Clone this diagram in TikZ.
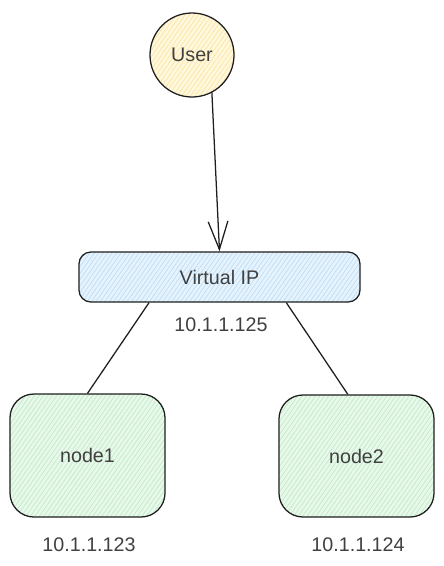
\documentclass[tikz,border=0pt]{standalone}
\usepackage{fontspec}
\setmainfont{Liberation Sans}
\usepackage{xcolor}
\usetikzlibrary{arrows.meta,patterns.meta}

\definecolor{userfill}{HTML}{FFF8DC}
\definecolor{userhatch}{HTML}{FBE3A0}
\definecolor{vipfill}{HTML}{E6F3FD}
\definecolor{viphatch}{HTML}{B9DCF6}
\definecolor{hostfill}{HTML}{E8F8EA}
\definecolor{hosthatch}{HTML}{BDEBC4}
\definecolor{ink}{HTML}{1E1E1E}

\tikzset{
  hatch/.style 2 args={preaction={fill=#1}, pattern={Lines[angle=55,distance=2.6pt,line width=0.45pt]}, pattern color=#2},
  txt/.style={draw=none, fill=none, text=ink!85, font=\fontsize{14}{16}\selectfont}
}

\begin{document}
\begin{tikzpicture}[x=0.025cm, y=-0.025cm, every node/.style={draw=ink, line width=0.9pt, text=ink!85, font=\fontsize{14}{16}\selectfont, inner sep=0pt}]
            \useasboundingbox (0,0) rectangle (444,566);

            \node (U) at (192,55) [circle, minimum size=2.1cm, hatch={userfill}{userhatch}] {User};
            \node (VIP) at (219.5,277) [rectangle, rounded corners=0.3cm, minimum width=7.025cm, minimum height=1.25cm, hatch={vipfill}{viphatch}] {Virtual IP};
            \node (vipip) at (221,325) [txt] {10.1.1.125};

            \node (n1) at (87.5,455.5) [rectangle, rounded corners=0.6cm, minimum width=3.875cm, minimum height=3.075cm, hatch={hostfill}{hosthatch}] {node1};
            \node (n1ip) at (89,545) [txt] {10.1.1.123};

            \node (n2) at (356.5,456) [rectangle, rounded corners=0.6cm, minimum width=3.875cm, minimum height=3.05cm, hatch={hostfill}{hosthatch}] {node2};
            \node (n2ip) at (358,545) [txt] {10.1.1.124};

            \draw[ink, line width=0.9pt, -{Straight Barb[length=20pt,width=14pt,line width=0.9pt]}] (U.-62) -- (VIP.north);

            \draw[ink, line width=0.9pt] (VIP.-160) -- (n1.north);
            \draw[ink, line width=0.9pt] (VIP.-21.5) -- (n2.98);
        \end{tikzpicture}
\end{document}
